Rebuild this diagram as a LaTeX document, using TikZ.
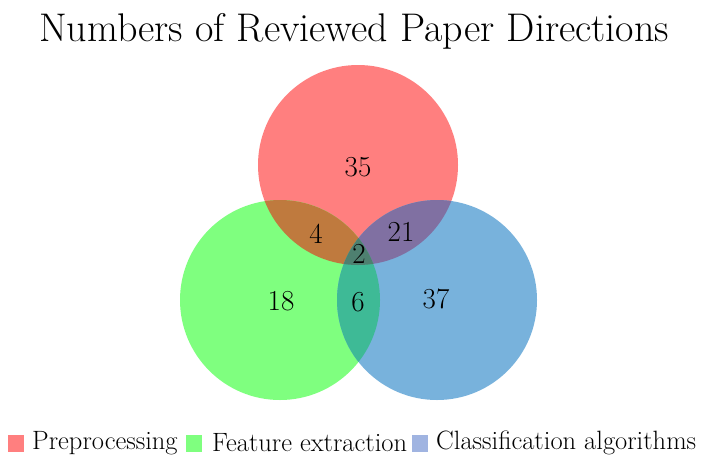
\documentclass[tikz,border=0pt]{standalone}
\usepackage{fontspec}
\usepackage{tikz}
\definecolor{cR}{RGB}{255,127,127}
\definecolor{cG}{RGB}{127,255,127}
\definecolor{cB}{RGB}{120,178,220}
\definecolor{cRG}{RGB}{191,122,62}
\definecolor{cRB}{RGB}{128,112,162}
\definecolor{cGB}{RGB}{62,186,150}
\definecolor{cRGB}{RGB}{78,128,112}
\definecolor{lB}{RGB}{160,180,225}
\tikzset{
  num/.style={font=\fontsize{29}{32}\selectfont, inner sep=0pt},
  legtext/.style={font=\fontsize{26.5}{28}\selectfont, anchor=west, inner sep=0pt},
  legbox/.style={minimum width=16pt, minimum height=17pt, inner sep=0pt, draw=none}
}
\begin{document}
\begin{tikzpicture}[x=1pt,y=-1pt]
\useasboundingbox (0,0) rectangle (708,461);
\fill[white] (0,0) rectangle (708,461);
% circles
\coordinate (R) at (358,165);
\coordinate (G) at (280,300);
\coordinate (B) at (437,300);
\fill[cR] (R) circle (100);
\fill[cG] (G) circle (100);
\fill[cB] (B) circle (100);
\begin{scope}
  \clip (R) circle (100);
  \fill[cRG] (G) circle (100);
  \fill[cRB] (B) circle (100);
\end{scope}
\begin{scope}
  \clip (G) circle (100);
  \fill[cGB] (B) circle (100);
  \clip (B) circle (100);
  \fill[cRGB] (R) circle (100);
\end{scope}
% title
\node[font=\fontsize{40}{44}\selectfont, inner sep=0pt] (title) at (354,31) {Numbers of Reviewed Paper Directions};
% numbers
\node[num] (n35) at (358,167) {35};
\node[num] (n4) at (316,234) {4};
\node[num] (n21) at (401,232) {21};
\node[num] (n2) at (359,254) {2};
\node[num] (n18) at (281,301) {18};
\node[num] (n6) at (358,302) {6};
\node[num] (n37) at (436,299) {37};
% legend
\node[legbox, fill=cR] (lr) at (16,443) {};
\node[legtext] (tr) at (32,443) {Preprocessing};
\node[legbox, fill=cG] (lg) at (194,443) {};
\node[legtext] (tg) at (212,443) {Feature extraction};
\node[legbox, fill=lB] (lb) at (420,443) {};
\node[legtext] (tb) at (436,443) {Classification algorithms};
\end{tikzpicture}
\end{document}
